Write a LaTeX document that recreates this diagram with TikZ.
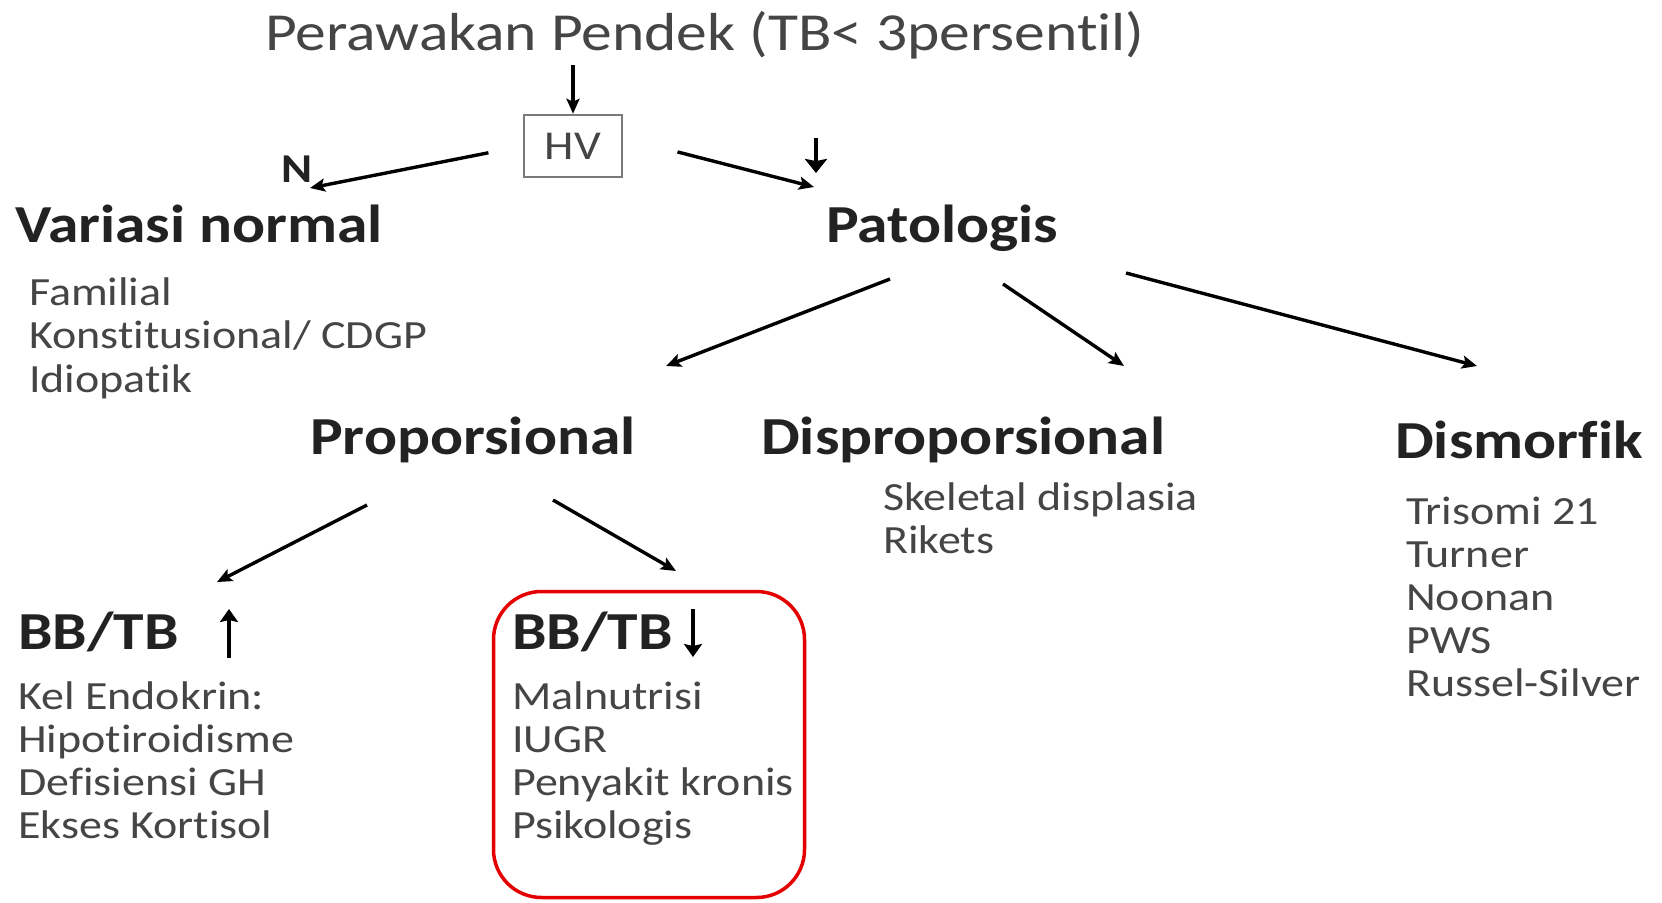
\documentclass[tikz,border=0pt]{standalone}
\usepackage{fontspec}
\setmainfont[FakeStretch=1.15, Ligatures={NoCommon}]{Carlito}
\usetikzlibrary{arrows.meta,calc}

\definecolor{inkdark}{HTML}{222222}
\definecolor{inkgray}{HTML}{454545}
\definecolor{boxgray}{HTML}{7A7A7A}
\definecolor{framered}{RGB}{228,0,0}

\newcommand\setsz[1]{\fontsize{#1}{#1}\selectfont}

\begin{document}
\begin{tikzpicture}[x=1pt,y=-1pt,
  txt/.style={inner sep=0pt, anchor=base west},
  head/.style={txt, text=inkdark, font=\setsz{53.5}\bfseries},
  item/.style={txt, text=inkgray, font=\setsz{40}},
  conn/.style={line width=3.4pt, draw=black, -{Stealth[length=15pt,width=13pt,inset=3pt]}},
  glyph/.style={line width=4.6pt, draw=black, -{Stealth[length=13pt,width=18pt,inset=2pt]}}]

\useasboundingbox[fill=white] (0,0) rectangle (1662,902);

% top of the tree
\node[txt, text=inkgray, font=\setsz{53.5}] (title) at (265,50) {Perawakan Pendek (TB< 3persentil)};
\node[draw=boxgray, line width=2.5pt, minimum width=98pt, minimum height=62pt,
      inner sep=0pt, text=inkgray, font=\setsz{41}] (hv) at (573,146) {HV};
\node[txt, text=inkdark, font=\setsz{41}\bfseries] (n) at (281,182) {N};

% normal variants
\node[head] (vn) at (15,242) {Variasi normal};
\foreach \t [count=\i] in {Familial, {Konstitusional/ CDGP}, Idiopatik}
  \node[item] (vn\i) at (29,{305+43.5*(\i-1)}) {\t};

% pathological branch
\node[head] (pat) at (826,242) {Patologis};
\node[head] (prop) at (310,454) {Proporsional};
\node[head] (dis) at (761,454) {Disproporsional};
\node[head] (dism) at (1395,458) {Dismorfik};

\foreach \t [count=\i] in {Skeletal displasia, Rikets}
  \node[item] (dis\i) at (883,{510+43*(\i-1)}) {\t};
\foreach \t [count=\i] in {Trisomi 21, Turner, Noonan, PWS, Russel-Silver}
  \node[item] (dism\i) at (1406,{524+43*(\i-1)}) {\t};

% weight-for-height groups
\node[head] (bbup) at (18,649) {BB/TB};
\node[head] (bbdn) at (512,649) {BB/TB};
\foreach \t [count=\i] in {Kel Endokrin:, Hipotiroidisme, Defisiensi GH, Ekses Kortisol}
  \node[item] (up\i) at (18,{709+43*(\i-1)}) {\t};
\foreach \t [count=\i] in {Malnutrisi, IUGR, Penyakit kronis, Psikologis}
  \node[item] (dn\i) at (512,{709+43.3*(\i-1)}) {\t};

\node[draw=framered, line width=3.5pt, rounded corners=48pt, inner sep=0pt,
      minimum width=311pt, minimum height=306pt] (frame) at (649,744.5) {};

% connectors
\draw[conn, shorten <=6pt, line width=3.6pt] (hv.north |- title.south) -- (hv.north);
\draw[conn, shorten <=35pt] (hv.west) -- ($(n.base west)+(29,6)$);
\draw[conn, shorten <=56pt] ($(hv.east)+(0,-8)$) -- ($(pat.base west)+(-12,-55)$);

\draw[conn] ($(pat.base west)+(64,37)$)  -- ($(prop.base west)+(356,-88)$);
\draw[conn] ($(pat.base west)+(177,42)$) -- ($(dis.base west)+(363,-88)$);
\draw[conn] ($(pat.base west)+(300,31)$) -- ($(dism.base west)+(82,-92)$);

\draw[conn] ($(prop.base west)+(57,51)$)  -- ($(bbup.base west)+(199,-67)$);
\draw[conn] ($(prop.base west)+(243,46)$) -- ($(bbdn.base west)+(164,-78)$);

% small up/down marks
\draw[glyph, -{Stealth[length=14pt,width=22pt,inset=2pt]}] ($(pat.base west)+(-10,-104)$) -- ($(pat.base west)+(-10,-69)$);
\draw[glyph] ($(bbup.base west)+(211,9)$) -- ($(bbup.base west)+(211,-40)$);
\draw[glyph] ($(bbdn.base west)+(181,-40)$) -- ($(bbdn.base west)+(181,8)$);

\end{tikzpicture}
\end{document}
